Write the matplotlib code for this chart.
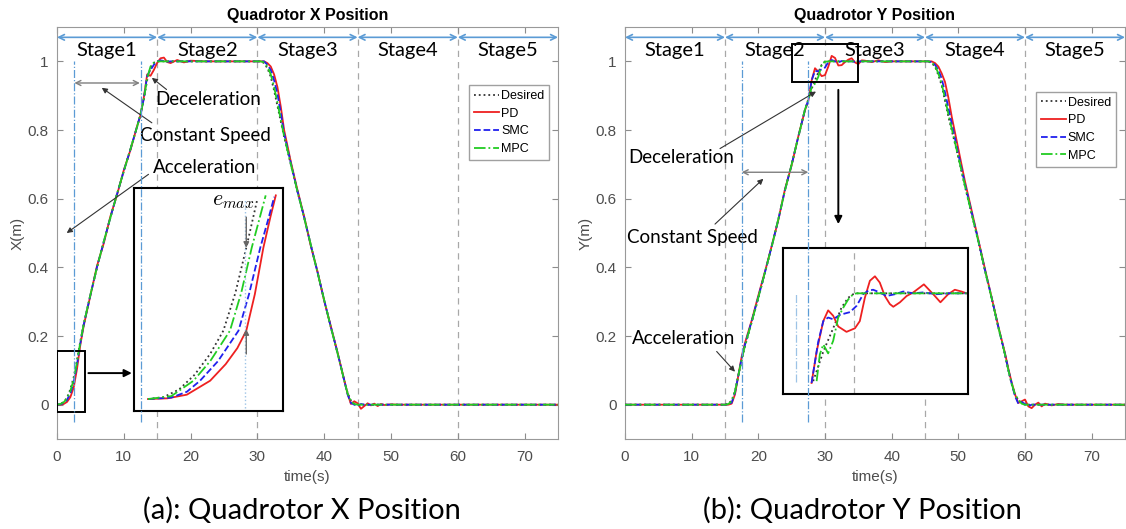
import matplotlib
matplotlib.use("Agg")
import matplotlib.pyplot as plt
from matplotlib.patches import Rectangle

plt.rcParams['font.family'] = ['Liberation Sans', 'DejaVu Sans']
plt.rcParams['mathtext.fontset'] = 'cm'

# ---------------- data: X position ----------------
tx = [0, 0.5, 1, 1.5, 2, 2.5, 3, 3.5, 4, 5, 6, 7, 8, 9, 10, 11, 12, 12.5,
      13, 13.5, 14, 14.5, 15, 15.5, 16, 16.5, 17, 18, 19, 20, 22, 24, 26, 28, 30,
      30.5, 31, 31.5, 32, 32.5, 33, 33.5, 34, 35, 36, 37, 38, 39, 40, 41, 42,
      42.5, 43, 43.5, 44, 44.5, 45, 45.5, 46, 46.5, 47, 47.5, 48, 48.5, 49,
      50, 51, 52, 55, 60, 65, 70, 75]
x_desired = [0, 0.002, 0.008, 0.02, 0.045, 0.08, 0.13, 0.185, 0.235,
             0.32, 0.40, 0.475, 0.545, 0.615, 0.68, 0.745, 0.81, 0.845,
             0.89, 0.945, 0.982, 0.996, 1.0, 1.0, 1.0, 1.0, 1.0,
             1.0, 1.0, 1.0, 1.0, 1.0, 1.0, 1.0, 1.0,
             1.0, 0.995, 0.98, 0.955, 0.915, 0.87, 0.825, 0.78,
             0.70, 0.62, 0.545, 0.465, 0.385, 0.305, 0.225, 0.15,
             0.11, 0.07, 0.035, 0.012, 0.003, 0, 0, 0, 0, 0, 0, 0, 0, 0,
             0, 0, 0, 0, 0, 0, 0, 0]
x_pd = [0, 0.0, 0.002, 0.008, 0.022, 0.05, 0.105, 0.175, 0.23,
        0.318, 0.405, 0.47, 0.549, 0.612, 0.683, 0.742, 0.812, 0.843,
        0.895, 0.962, 0.958, 0.975, 0.996, 1.009, 1.011, 0.998, 0.995,
        1.004, 0.997, 1.002, 1.0, 1.0, 1.0, 1.0, 1.0,
        1.0, 1.0, 0.995, 0.985, 0.962, 0.925, 0.868, 0.80,
        0.708, 0.625, 0.548, 0.462, 0.388, 0.302, 0.228, 0.152,
        0.112, 0.072, 0.032, 0.002, 0.01, 0.004, -0.012, -0.004, 0.004, -0.002, 0.003, -0.004, 0.002, -0.001,
        0.001, 0, 0, 0, 0, 0, 0, 0]
x_smc = [0, 0.001, 0.005, 0.014, 0.033, 0.065, 0.118, 0.18, 0.233,
         0.319, 0.402, 0.474, 0.546, 0.614, 0.681, 0.744, 0.811, 0.845,
         0.892, 0.958, 0.975, 0.99, 1.0, 1.003, 1.001, 0.999, 1.0,
         1.0, 1.0, 1.0, 1.0, 1.0, 1.0, 1.0, 1.0,
         1.0, 1.0, 0.99, 0.975, 0.945, 0.905, 0.85, 0.79,
         0.704, 0.622, 0.546, 0.464, 0.386, 0.304, 0.226, 0.151,
         0.111, 0.071, 0.03, 0.005, 0.0, -0.004, 0.002, 0.0, 0, 0, 0, 0, 0, 0,
         0, 0, 0, 0, 0, 0, 0, 0]
x_mpc = [0, 0.002, 0.007, 0.018, 0.04, 0.073, 0.125, 0.183, 0.234,
         0.32, 0.401, 0.475, 0.545, 0.615, 0.68, 0.745, 0.81, 0.846,
         0.89, 0.952, 0.985, 0.996, 1.0, 1.0, 1.0, 1.0, 1.0,
         1.0, 1.0, 1.0, 1.0, 1.0, 1.0, 1.0, 1.0,
         1.0, 0.997, 0.985, 0.962, 0.925, 0.88, 0.83, 0.782,
         0.701, 0.621, 0.545, 0.465, 0.385, 0.305, 0.225, 0.15,
         0.11, 0.07, 0.033, 0.01, 0.002, 0, 0, 0, 0, 0, 0, 0, 0, 0,
         0, 0, 0, 0, 0, 0, 0, 0]

# zoomed start of stage 1 (left inset)
ins_x_t_des = [0, 0.4, 0.8, 1.2, 1.6, 1.94, 2.25, 2.53, 2.82]
ins_x_des = [0, 0.0013, 0.0066, 0.0167, 0.031, 0.047, 0.073, 0.104, 0.138]
ins_x_t_pd = [0, 0.5, 1.0, 1.6, 2.0, 2.3, 2.53, 2.75, 2.97, 3.15, 3.29]
ins_x_pd = [0, 0.0005, 0.003, 0.0126, 0.024, 0.035, 0.047, 0.072, 0.104, 0.125, 0.14]
ins_x_t_smc = [0, 0.6, 1.0, 1.34, 1.8, 2.33, 2.6, 2.89, 3.1, 3.25]
ins_x_smc = [0, 0.001, 0.005, 0.0126, 0.026, 0.047, 0.072, 0.104, 0.124, 0.139]
ins_x_t_mpc = [0, 0.6, 1.17, 1.6, 2.11, 2.4, 2.67, 2.85, 3.03]
ins_x_mpc = [0, 0.002, 0.0126, 0.026, 0.047, 0.073, 0.104, 0.122, 0.14]

# ---------------- data: Y position ----------------
ty = [0, 5, 10, 15, 15.5, 16, 16.5, 17, 17.5, 18, 19, 20, 21, 22, 23, 24, 25, 26, 27,
      27.5, 28, 28.5, 29, 29.5, 30, 30.5, 31, 31.5, 32, 32.5, 33, 33.5, 34, 34.5,
      35, 35.5, 36, 37, 38, 39, 40, 42, 44, 45, 45.5, 46, 46.5, 47, 47.5, 48, 48.5,
      49, 50, 51, 52, 53, 54, 55, 56, 57, 57.5, 58, 58.5, 59, 59.5, 60, 60.5, 61,
      61.5, 62, 62.5, 63, 64, 65, 66, 67, 70, 75]
y_desired = [0, 0, 0, 0, 0.003, 0.012, 0.04, 0.085, 0.13, 0.17,
             0.24, 0.31, 0.385, 0.46, 0.54, 0.625, 0.70, 0.78, 0.86, 0.89,
             0.92, 0.945, 0.968, 0.99, 1.0, 1.0, 1.0, 1.0, 1.0, 1.0, 1.0, 1.0, 1.0, 1.0, 1.0, 1.0, 1.0,
             1.0, 1.0, 1.0, 1.0, 1.0, 1.0, 1.0,
             1.0, 0.995, 0.985, 0.96, 0.93, 0.885, 0.84, 0.80,
             0.72, 0.635, 0.555, 0.475, 0.39, 0.31, 0.225, 0.145,
             0.10, 0.06, 0.03, 0.013, 0.004, 0, 0, 0, 0, 0, 0, 0,
             0, 0, 0, 0, 0, 0]
y_pd = [0, 0, 0, 0, 0.0, 0.003, 0.03, 0.085, 0.14, 0.18,
        0.245, 0.318, 0.388, 0.462, 0.538, 0.628, 0.698, 0.782, 0.858, 0.885,
        0.945, 0.98, 0.97, 0.957, 0.96, 0.985, 1.016, 1.01, 0.988, 0.989, 0.998, 1.005, 1.009, 0.997, 0.992, 1.003, 1.002,
        0.998, 1.003, 0.998, 1.0, 1.0, 1.0, 1.0,
        1.0, 1.0, 0.995, 0.985, 0.965, 0.94, 0.895, 0.84,
        0.745, 0.65, 0.565, 0.48, 0.395, 0.312, 0.228, 0.15,
        0.105, 0.065, 0.03, 0.005, 0.01, 0.015, -0.005, -0.01, 0.0, 0.006, -0.005, 0.003,
        -0.002, 0.002, 0.0, 0.0, 0, 0]
y_smc = [0, 0, 0, 0, 0.001, 0.006, 0.035, 0.085, 0.135, 0.175,
         0.243, 0.314, 0.386, 0.461, 0.539, 0.626, 0.699, 0.781, 0.859, 0.887,
         0.945, 0.972, 0.971, 0.977, 0.982, 0.998, 1.004, 1.0, 0.997, 1.001, 1.0, 1.0, 1.0, 0.999, 1.0, 1.0, 1.0,
         1.0, 1.0, 1.0, 1.0, 1.0, 1.0, 1.0,
         1.0, 0.998, 0.99, 0.975, 0.95, 0.91, 0.865, 0.82,
         0.73, 0.642, 0.56, 0.478, 0.392, 0.311, 0.226, 0.147,
         0.102, 0.062, 0.025, 0.003, 0.008, 0.002, -0.004, 0.0, 0, 0, 0, 0,
         0, 0, 0, 0, 0, 0]
y_mpc = [0, 0, 0, 0, 0.002, 0.01, 0.038, 0.085, 0.132, 0.172,
         0.241, 0.312, 0.386, 0.46, 0.54, 0.625, 0.70, 0.78, 0.86, 0.887,
         0.925, 0.935, 0.955, 0.99, 0.999, 1.0, 1.0, 1.0, 1.0, 1.0, 1.0, 1.0, 1.0, 1.0, 1.0, 1.0, 1.0,
         1.0, 1.0, 1.0, 1.0, 1.0, 1.0, 1.0,
         1.0, 0.996, 0.988, 0.965, 0.935, 0.892, 0.847, 0.805,
         0.722, 0.637, 0.556, 0.476, 0.391, 0.31, 0.226, 0.146,
         0.101, 0.061, 0.03, 0.015, 0.003, 0, 0, 0, 0, 0, 0, 0,
         0, 0, 0, 0, 0, 0]

# zoomed end of stage 2 (right inset)
ins_y_t_des = [27.74, 28.30, 28.85, 29.31, 29.68, 29.96, 30.15, 36.26]
ins_y_des = [0.902, 0.935, 0.961, 0.984, 0.995, 0.999, 1.0, 1.0]
ins_y_t_pd = [27.65, 27.93, 28.30, 28.57, 28.85, 29.13, 29.59, 30.06, 30.33, 30.61, 30.89,
              31.17, 31.44, 31.72, 32.00, 32.19, 32.56, 32.93, 33.30, 33.89, 34.41,
              34.81, 35.24, 35.61, 35.98, 36.26]
ins_y_pd = [0.900, 0.935, 0.969, 0.981, 0.975, 0.963, 0.957, 0.961, 0.969, 0.995, 1.014,
            1.019, 1.012, 0.997, 0.988, 0.985, 0.990, 0.997, 1.001, 1.010, 0.999,
            0.990, 0.999, 1.004, 1.002, 1.000]
ins_y_t_smc = [27.65, 28.02, 28.30, 28.57, 28.85, 29.22, 29.78, 30.15, 30.52, 30.80, 31.07,
               31.44, 31.81, 32.28, 32.74, 33.30, 33.85, 34.59, 35.33, 36.26]
ins_y_smc = [0.900, 0.946, 0.969, 0.973, 0.971, 0.976, 0.979, 0.986, 0.999, 1.003, 1.004,
             1.001, 0.997, 0.999, 1.002, 1.000, 1.001, 0.999, 1.000, 1.000]
ins_y_t_mpc = [27.93, 28.11, 28.30, 28.57, 28.85, 29.13, 29.41, 29.68, 29.96, 30.15, 36.26]
ins_y_mpc = [0.902, 0.932, 0.943, 0.933, 0.947, 0.973, 0.984, 0.993, 0.999, 1.0, 1.0]

stage_edges = [0, 15, 30, 45, 60, 75]
stage_names = ['Stage1', 'Stage2', 'Stage3', 'Stage4', 'Stage5']
labels = ['Desired', 'PD', 'SMC', 'MPC']
styles = [dict(color='#333333', ls=':', lw=1.3),
          dict(color='#ee2020', ls='-', lw=1.3),
          dict(color='#2020ee', ls='--', lw=1.3),
          dict(color='#22cc22', ls='-.', lw=1.3)]

LBLUE = '#5b9bd5'
GRID = '#a8a8a8'
ANN = dict(fontsize=13.5, family='Lato', va='center', ha='left')
thin = dict(arrowstyle='-|>', color='#333333', lw=0.8, mutation_scale=8, shrinkA=0, shrinkB=0)
both = dict(arrowstyle='<->', color='#7f7f7f', lw=1.0, mutation_scale=9, shrinkA=0, shrinkB=0)
bold = dict(arrowstyle='-|>', color='black', lw=1.4, mutation_scale=11, shrinkA=0, shrinkB=0)

fig = plt.figure(figsize=(11.26, 5.29), dpi=100)
ax1 = fig.add_axes([57 / 1126, 0.1701, 501 / 1126, 0.7788])
ax2 = fig.add_axes([625 / 1126, 0.1701, 500 / 1126, 0.7788])


def base(ax, title, ylab, blue_t):
    ax.set_xlim(0, 75)
    ax.set_ylim(-0.1, 1.1)
    ax.set_xticks(range(0, 80, 10))
    ax.set_yticks([0, 0.2, 0.4, 0.6, 0.8, 1.0])
    ax.set_yticklabels(['0', '0.2', '0.4', '0.6', '0.8', '1'])
    ax.tick_params(direction='in', top=True, right=True, length=4, width=0.8,
                   color='#8c8c8c', labelcolor='#4d4d4d', labelsize=11)
    ax.tick_params(axis='x', pad=8)
    ax.tick_params(axis='y', pad=6)
    for s in ax.spines.values():
        s.set_color('#999999')
        s.set_linewidth(0.8)
    ax.set_title(title, fontsize=11.5, fontweight='bold', pad=5)
    ax.set_xlabel('time(s)', fontsize=11, color='#4d4d4d', labelpad=4)
    ax.set_ylabel(ylab, fontsize=11, color='#4d4d4d', labelpad=2)
    for s in stage_edges[1:-1]:
        ax.axvline(s, color=GRID, ls=(0, (5, 4)), lw=0.9, zorder=1)
    for i, name in enumerate(stage_names):
        a, b = stage_edges[i], stage_edges[i + 1]
        ax.annotate('', xy=(b, 1.07), xytext=(a, 1.07),
                    arrowprops=dict(arrowstyle='<->', color=LBLUE, lw=1.2,
                                    mutation_scale=10, shrinkA=0, shrinkB=0))
        ax.text((a + b) / 2, 1.032, name, ha='center', va='center',
                fontsize=14.5, family='Lato')
    ax.vlines(blue_t, -0.05, 1.0, colors=LBLUE, linestyles='-.', lw=0.9, zorder=6)


def legend(ax, anchor):
    ax.legend(loc='upper right', bbox_to_anchor=anchor, fontsize=9, fancybox=False,
              edgecolor='#a0a0a0', framealpha=1, handlelength=2.0, handletextpad=0.15,
              labelspacing=0.45, borderpad=0.4, borderaxespad=0)


# ---------- X ----------
base(ax1, 'Quadrotor X Position', 'X(m)', [2.5, 12.5])
for ys, lab, st in zip([x_desired, x_pd, x_smc, x_mpc], labels, styles):
    ax1.plot(tx, ys, label=lab, zorder=3, **st)
legend(ax1, (0.9826, 0.859))

ax1.text(14.7, 0.889, 'Deceleration', **ANN)
ax1.annotate('', xy=(14.2, 0.952), xytext=(16.4, 0.918), arrowprops=thin)
ax1.text(12.4, 0.784, 'Constant Speed', **ANN)
ax1.annotate('', xy=(6.7, 0.923), xytext=(14.2, 0.821), arrowprops=thin)
ax1.annotate('', xy=(12.4, 0.937), xytext=(2.6, 0.937), arrowprops=both)
ax1.text(14.4, 0.691, 'Acceleration', **ANN)
ax1.annotate('', xy=(1.45, 0.50), xytext=(13.7, 0.671), arrowprops=thin)
ax1.add_patch(Rectangle((0, -0.02), 4.2, 0.175, fill=False, ec='black', lw=1.4, zorder=4))
ax1.annotate('', xy=(11.2, 0.092), xytext=(4.7, 0.092), arrowprops=bold)

ins1 = ax1.inset_axes([11.53, -0.0175, 22.27, 0.6475], transform=ax1.transData)
for xs, ys, st in zip([ins_x_t_des, ins_x_t_pd, ins_x_t_smc, ins_x_t_mpc],
                      [ins_x_des, ins_x_pd, ins_x_smc, ins_x_mpc], styles):
    ins1.plot(xs, ys, **st)
ins1.set_xlim(-0.36, 3.47)
ins1.set_ylim(-0.008, 0.1448)
ins1.vlines(2.5, -0.006, 0.1366, colors='#9dc3e6', linestyles=':', lw=1.0)
ins1.text(2.2, 0.1366, r'$e_{max}$', fontsize=16, ha='center', va='center')
earrow = dict(arrowstyle='-|>', color='#666666', lw=1.0, mutation_scale=8, shrinkA=0, shrinkB=0)
ins1.annotate('', xy=(2.53, 0.104), xytext=(2.53, 0.125), arrowprops=earrow)
ins1.annotate('', xy=(2.53, 0.048), xytext=(2.53, 0.031), arrowprops=earrow)

# ---------- Y ----------
base(ax2, 'Quadrotor Y Position', 'Y(m)', [17.5, 27.5])
for ys, lab, st in zip([y_desired, y_pd, y_smc, y_mpc], labels, styles):
    ax2.plot(ty, ys, label=lab, zorder=3, **st)
legend(ax2, (0.982, 0.843))

ax2.text(0.45, 0.72, 'Deceleration', **ANN)
ax2.annotate('', xy=(28.65, 0.912), xytext=(14.25, 0.746), arrowprops=thin)
ax2.text(0.3, 0.486, 'Constant Speed', **ANN)
ax2.annotate('', xy=(20.75, 0.658), xytext=(13.5, 0.526), arrowprops=thin)
ax2.annotate('', xy=(27.5, 0.677), xytext=(17.5, 0.677), arrowprops=both)
ax2.text(1.05, 0.193, 'Acceleration', **ANN)
ax2.annotate('', xy=(16.5, 0.096), xytext=(13.75, 0.155), arrowprops=thin)
ax2.add_patch(Rectangle((25.0, 0.94), 9.9, 0.11, fill=False, ec='black', lw=1.4, zorder=4))
ax2.annotate('', xy=(32.0, 0.526), xytext=(32.0, 0.917), arrowprops=bold)

ins2 = ax2.inset_axes([23.64, 0.032, 27.78, 0.4255], transform=ax2.transData)
for xs, ys, st in zip([ins_y_t_des, ins_y_t_pd, ins_y_t_smc, ins_y_t_mpc],
                      [ins_y_des, ins_y_pd, ins_y_smc, ins_y_mpc], styles):
    ins2.plot(xs, ys, **st)
ins2.set_xlim(26.04, 36.33)
ins2.set_ylim(0.888, 1.051)
ins2.axvline(30, color=GRID, ls=(0, (5, 4)), lw=0.9, zorder=1)
ins2.vlines(26.78, 0.9015, 1.0, colors='#9dc3e6', linestyles='-.', lw=0.9)

for ins in (ins1, ins2):
    ins.set_xticks([])
    ins.set_yticks([])
    for s in ins.spines.values():
        s.set_color('black')
        s.set_linewidth(1.5)

fig.text(0.268, 0.036, '(a): Quadrotor X Position', ha='center', va='center',
         fontsize=21, family='Lato')
fig.text(0.766, 0.036, '(b): Quadrotor Y Position', ha='center', va='center',
         fontsize=21, family='Lato')

fig.savefig('out.png', dpi=100)
